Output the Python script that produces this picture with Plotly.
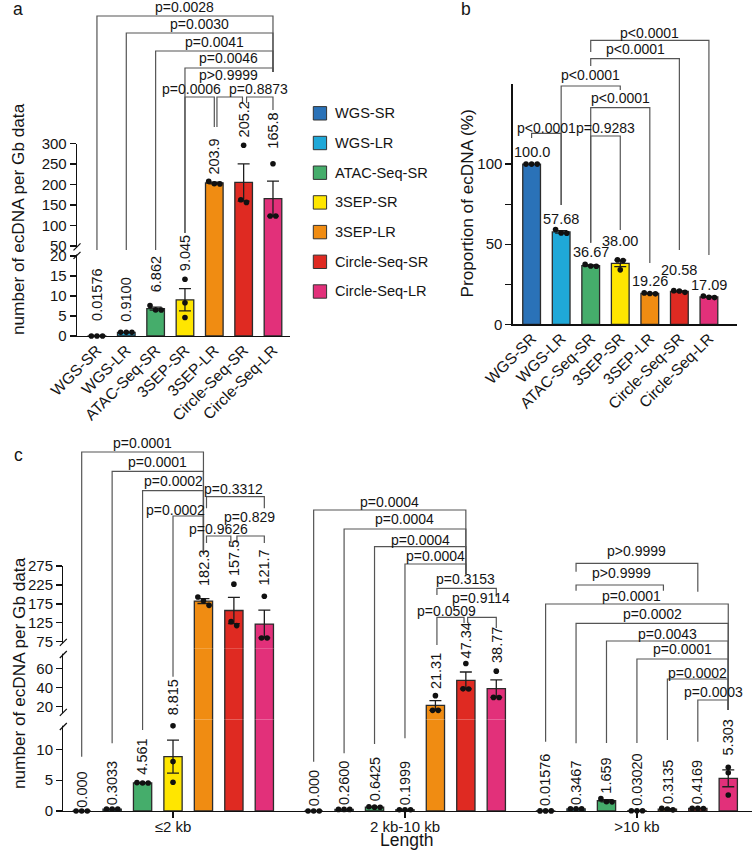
import numpy as np
import plotly.graph_objects as go

W, H = 753, 851
FONT = "Liberation Sans, Arial, Helvetica, sans-serif"
INK = "#141414"
BRK = "#555555"

# ----------------------------------------------------------------- data
techniques = ["WGS-SR", "WGS-LR", "ATAC-Seq-SR", "3SEP-SR", "3SEP-LR",
              "Circle-Seq-SR", "Circle-Seq-LR"]
colors = ["#2a72b8", "#1fa8d8", "#45ad6b", "#ffe600", "#f08c12", "#df2a22", "#e2307a"]

# panel a: number of ecDNA per Gb data
a_means = [0.01576, 0.9100, 6.862, 9.045, 203.9, 205.2, 165.8]
a_labels = ["0.01576", "0.9100", "6.862", "9.045", "203.9", "205.2", "165.8"]
a_points = [[0.0158, 0.0157, 0.0158], [0.91, 0.91, 0.91], [7.6, 6.5, 6.49],
            [14.2, 8.3, 4.63], [208.0, 202.0, 201.7], [296.0, 163.0, 156.6],
            [251.0, 123.2, 123.2]]
a_pairs = [(0, 6, "p=0.0028"), (1, 6, "p=0.0030"), (2, 6, "p=0.0041"),
           (3, 6, "p=0.0046"), (4, 5, "p>0.9999"), (3, 4, "p=0.0006"),
           (5, 6, "p=0.8873")]

# panel b: proportion of ecDNA (%)
b_means = [100.0, 57.68, 36.67, 38.00, 19.26, 20.58, 17.09]
b_labels = ["100.0", "57.68", "36.67", "38.00", "19.26", "20.58", "17.09"]
b_points = [[100.0, 100.0, 100.0], [59.2, 57.0, 56.84], [37.4, 36.4, 36.2],
            [40.2, 39.8, 34.0], [19.6, 19.2, 19.0], [21.0, 20.8, 19.95],
            [17.7, 16.9, 16.67]]
b_pairs = [(2, 6, "p<0.0001"), (2, 5, "p<0.0001"), (1, 3, "p<0.0001"),
           (2, 4, "p<0.0001"), (2, 3, "p=0.9283"), (0, 1, "p<0.0001")]

# panel c: number of ecDNA per Gb data by length
length_groups = ["≤2 kb", "2 kb-10 kb", ">10 kb"]
c_means = [[0.000, 0.3033, 4.561, 8.815, 182.3, 157.5, 121.7],
           [0.000, 0.2600, 0.6425, 0.1999, 21.31, 47.34, 38.77],
           [0.01576, 0.3467, 1.659, 0.03020, 0.3135, 0.4169, 5.303]]
c_labels = [["0.000", "0.3033", "4.561", "8.815", "182.3", "157.5", "121.7"],
            ["0.000", "0.2600", "0.6425", "0.1999", "21.31", "47.34", "38.77"],
            ["0.01576", "0.3467", "1.659", "0.03020", "0.3135", "0.4169", "5.303"]]
c_points = [
    [[0, 0, 0], [0.30, 0.30, 0.31], [4.6, 4.55, 4.53], [13.8, 8.0, 4.65],
     [193.0, 183.0, 171.0], [227.0, 128.0, 117.5], [195.0, 85.0, 85.0]],
    [[0, 0, 0], [0.26, 0.26, 0.26], [0.70, 0.62, 0.61], [0.20, 0.20, 0.20],
     [31.5, 16.2, 16.2], [64.9, 38.6, 38.5], [57.0, 29.7, 29.6]],
    [[0.0158, 0.0157, 0.0158], [0.35, 0.34, 0.35], [2.0, 1.5, 1.48],
     [0.03, 0.03, 0.031], [0.45, 0.30, 0.19], [0.42, 0.41, 0.42], [7.1, 6.2, 2.6]],
]
c_pairs = [
    [(0, 4, "p=0.0001"), (1, 4, "p=0.0001"), (2, 4, "p=0.0002"), (3, 4, "p=0.0002"),
     (4, 6, "p=0.3312"), (4, 5, "p=0.9626"), (5, 6, "p=0.829")],
    [(0, 5, "p=0.0004"), (1, 5, "p=0.0004"), (2, 5, "p=0.0004"), (3, 5, "p=0.0004"),
     (4, 6, "p=0.3153"), (5, 6, "p=0.9114"), (4, 5, "p=0.0509")],
    [(1, 5, "p>0.9999"), (1, 4, "p>0.9999"), (0, 6, "p=0.0001"), (1, 6, "p=0.0002"),
     (2, 6, "p=0.0043"), (3, 6, "p=0.0001"), (4, 6, "p=0.0002"), (5, 6, "p=0.0003")],
]

# ----------------------------------------------------------------- layout geometry (pixels)
def px(x):
    return x / W


def py(y):
    return 1 - y / H


SEG_A = [dict(axis="y", lo=0, hi=21.25, p0=336, p1=251, ticks=[0, 5, 10, 15, 20]),
         dict(axis="y2", lo=38, hi=300, p0=251, p1=143.6, ticks=[50, 100, 150, 200, 250, 300])]
SEG_B = [dict(axis="y3", lo=0, hi=150, p0=324.3, p1=84, ticks=[0, 25, 50, 75, 100],
              text=["0", "", "50", "", "100"])]
SEG_C = [dict(axis="y4", lo=0, hi=14.83, p0=811, p1=719.5, ticks=[0, 5, 10]),
         dict(axis="y5", lo=6.7, hi=80.77, p0=719.5, p1=648.3, ticks=[20, 40, 60]),
         dict(axis="y6", lo=57.6, hi=275, p0=648.3, p1=566, ticks=[75, 125, 175, 225, 275])]
XA = dict(ref="x", p0=77, p1=290, rng=[-0.68, 6.58])
XB = dict(ref="x2", p0=512.7, p1=736.7, rng=[-0.64, 6.94])
XC = dict(ref="x3", p0=63.3, p1=752, rng=[-0.604, 22.02])
GROUP_STEP = 7.62

# value-label gaps above the highest point / error bar (px)
a_label_shift = [13, 9, 11, 6, 5, 5.5, 13]
b_label_shift = [2.6, 0.8, 2.5, 9.3, 2.2, 11, 1.2]
c_label_shift = [[1, 2, 5.5, 8.5, 9.5, 6, 9],
                 [2.5, 2.5, 3, 2.5, 5, 3, 6.5],
                 [2.5, 2, 3.5, 3, 2.5, 2, 10]]

# bracket geometry: (line_y, leg1_end_y, leg2_end_y, text_y, text_dx, x1_off, x2_off)
a_br = [(16, 250, 72, 7.3, 0, 0, 0), (33, 250, 72, 24, 0, 0, 0), (51, 250, 72, 42, 0, 0, 0),
        (68, 233, 72, 58, 0, 0, 0), (97, 127, 103, 75, 0, 0.09, -0.04),
        (97, 233, 127, 89.3, -8, 0, 0), (97, 103, 110, 89.3, 0, 0.1, 0)]
b_br = [(40.3, 52, 255, 32.7, 0, 0, 0), (58.7, 66, 250, 49, 0, 0, 0),
        (86, 205, 90, 75, 0, 0, 0), (107.7, 242.7, 263, 98, 0, 0, 0),
        (136, 242.7, 230, 128, 0, 0, 0), (133.3, 138, 205, 127.7, 0, 0, 0)]
c_br = [
    [(452, 756.7, 553, 442.7, 0, 0, 0), (471.3, 743.3, 553, 461.7, 0, 0, 0),
     (490.7, 730, 553, 481, 0, 0, 0), (516, 676.7, 553, 509.5, -13, 0, 0),
     (496.7, 508.3, 508.3, 489.3, 0, 0.1, 0), (536, 543, 543, 529.3, 0, 0.1, -0.1),
     (536, 543, 543, 517.3, 0, 0.1, 0)],
    [(510, 761.7, 574.3, 501.7, 0, 0, 0), (529, 753.3, 574.3, 519.3, 0, 0, 0),
     (546.7, 744, 574.3, 540, 0, 0, 0), (564, 738.3, 574.3, 556, 0, 0, 0),
     (588.3, 595, 596.7, 579.3, 0, 0.05, 0), (617.3, 623, 628, 598.3, 0, 0.06, 0),
     (617.3, 645, 623, 611, -4, 0.05, -0.06)],
    [(563.3, 571.7, 591.7, 550.7, 0, 0, 0), (585, 590.7, 590.7, 573.3, 0, 0, -0.13),
     (604, 741.7, 710, 595.7, -5, 0, 0), (623.3, 743.3, 710, 614.3, 0, 0, 0),
     (641, 743, 710, 634.3, 0, 0, 0), (659, 743, 710, 649, 0, 0, 0),
     (679, 740, 710, 672.7, 0, 0, 0), (700, 741.7, 710, 692.3, 0, 0, 0)],
]

fig = go.Figure()
shapes = []
annotations = []


def seg_index(v, segs):
    for i, s in enumerate(segs):
        if s["lo"] <= v <= s["hi"]:
            return i
    return len(segs) - 1


def to_px(v, segs):
    s = segs[seg_index(v, segs)]
    return s["p0"] + (v - s["lo"]) * (s["p1"] - s["p0"]) / (s["hi"] - s["lo"])


def jitter(vals, segs, unit_px):
    pys = [to_px(v, segs) for v in vals]
    order = sorted(range(len(vals)), key=lambda i: pys[i])
    clusters, cur = [], [order[0]]
    for i in order[1:]:
        if abs(pys[i] - pys[cur[-1]]) < 5:
            cur.append(i)
        else:
            clusters.append(cur)
            cur = [i]
    clusters.append(cur)
    offs = [0.0] * len(vals)
    step = 5.6 / unit_px
    for c in clusters:
        n = len(c)
        for j, i in enumerate(c):
            offs[i] = (j - (n - 1) / 2) * step
    return offs


def add_panel(xax, segs, xs, means, points, cols, labels, angle, shifts):
    unit_px = (xax["p1"] - xax["p0"]) / (xax["rng"][1] - xax["rng"][0])
    n = len(xs)
    sems = [float(np.std(p, ddof=1) / np.sqrt(len(p))) for p in points]
    for si, s in enumerate(segs):
        prev_hi = segs[si - 1]["hi"] if si > 0 else -np.inf
        idx = [k for k in range(n) if means[k] > prev_hi or si == 0]
        fig.add_trace(go.Bar(
            x=[xs[k] for k in idx], y=[means[k] for k in idx], width=0.6,
            marker=dict(color=[cols[k] for k in idx], line=dict(color="#2b2b2b", width=1.3)),
            xaxis=xax["ref"], yaxis=s["axis"], hoverinfo="skip", showlegend=False))
    for si, s in enumerate(segs):
        idx = [k for k in range(n) if seg_index(means[k], segs) == si and sems[k] > 1e-9]
        if idx:
            fig.add_trace(go.Scatter(
                x=[xs[k] for k in idx], y=[means[k] for k in idx], mode="markers",
                marker=dict(size=1, color="rgba(0,0,0,0)"),
                error_y=dict(type="data", array=[sems[k] for k in idx], color="#1e1e1e",
                             thickness=1.3, width=6),
                xaxis=xax["ref"], yaxis=s["axis"], hoverinfo="skip", showlegend=False))
    ptx = {si: [] for si in range(len(segs))}
    pty = {si: [] for si in range(len(segs))}
    for k in range(n):
        offs = jitter(points[k], segs, unit_px)
        for v, o in zip(points[k], offs):
            si = seg_index(v, segs)
            ptx[si].append(xs[k] + o)
            pty[si].append(v)
    for si, s in enumerate(segs):
        if ptx[si]:
            fig.add_trace(go.Scatter(
                x=ptx[si], y=pty[si], mode="markers", cliponaxis=False,
                marker=dict(size=5.6, color="#111111"),
                xaxis=xax["ref"], yaxis=s["axis"], hoverinfo="skip", showlegend=False))
    for k in range(n):
        top = max(max(points[k]), means[k] + sems[k])
        s = segs[seg_index(top, segs)]
        annotations.append(dict(
            x=xs[k], y=top, xref=xax["ref"], yref=s["axis"], text=labels[k],
            textangle=angle, showarrow=False, xanchor="center", yanchor="bottom",
            yshift=shifts[k], font=dict(family=FONT, size=14.5, color=INK)))


def add_bracket(xref, x1, x2, geo, text):
    yl, e1, e2, ty, dx, o1, o2 = geo
    a, b = x1 + o1, x2 + o2
    shapes.append(dict(type="path", xref=xref, yref="paper", layer="above",
                       path=f"M {a},{py(e1)} L {a},{py(yl)} L {b},{py(yl)} L {b},{py(e2)}",
                       line=dict(color=BRK, width=1.2)))
    annotations.append(dict(x=(x1 + x2) / 2, y=py(ty), xref=xref, yref="paper", xshift=dx,
                            text=text, showarrow=False, xanchor="center", yanchor="middle",
                            font=dict(family=FONT, size=14, color=INK)))


# panel a
xa = list(range(len(techniques)))
add_panel(XA, SEG_A, xa, a_means, a_points, colors, a_labels, -90, a_label_shift)
for (i, j, t), g in zip(a_pairs, a_br):
    add_bracket("x", xa[i], xa[j], g, t)

# panel b
add_panel(XB, SEG_B, xa, b_means, b_points, colors, b_labels, 0, b_label_shift)
for (i, j, t), g in zip(b_pairs, b_br):
    add_bracket("x2", xa[i], xa[j], g, t)

# panel c
xc, mc, pc, lc, cc, sc = [], [], [], [], [], []
for g in range(len(length_groups)):
    for k in range(len(techniques)):
        xc.append(g * GROUP_STEP + k)
        mc.append(c_means[g][k])
        pc.append(c_points[g][k])
        lc.append(c_labels[g][k])
        cc.append(colors[k])
        sc.append(c_label_shift[g][k])
add_panel(XC, SEG_C, xc, mc, pc, cc, lc, -90, sc)
for g in range(len(length_groups)):
    for (i, j, t), geo in zip(c_pairs[g], c_br[g]):
        add_bracket("x3", g * GROUP_STEP + i, g * GROUP_STEP + j, geo, t)

# ----------------------------------------------------------------- axes
axis_common = dict(showline=True, linecolor="#111111", linewidth=1.3, showgrid=False,
                   zeroline=False, tickcolor="#111111", tickwidth=1.3,
                   tickfont=dict(family=FONT, size=15, color=INK), automargin=False)
lay = {}
for xax, anchor, tv, tt, ang, tl, stand in [
        (XA, "y", xa, techniques, -45, 0, -2),
        (XB, "y3", xa, techniques, -45, 0, -2),
        (XC, "y4", [g * GROUP_STEP + 3 for g in range(3)], length_groups, 0, 6, -4)]:
    key = "xaxis" if xax["ref"] == "x" else "xaxis" + xax["ref"][1:]
    d = dict(axis_common)
    d.update(domain=[px(xax["p0"]), min(1.0, px(xax["p1"]))], range=xax["rng"], anchor=anchor,
             tickmode="array", tickvals=tv, ticktext=tt, tickangle=ang,
             ticks="outside" if tl else "", ticklen=tl, ticklabelstandoff=stand)
    if xax["ref"] != "x3":
        d["tickfont"] = dict(family=FONT, size=15.5, color=INK)
    lay[key] = d
for segs, xref in [(SEG_A, "x"), (SEG_B, "x2"), (SEG_C, "x3")]:
    for s in segs:
        key = "yaxis" if s["axis"] == "y" else "yaxis" + s["axis"][1:]
        d = dict(axis_common)
        d.update(domain=[py(s["p0"]), py(s["p1"])], range=[s["lo"], s["hi"]], anchor=xref,
                 tickmode="array", tickvals=s["ticks"],
                 ticktext=s.get("text", [str(t) for t in s["ticks"]]),
                 ticks="outside", ticklen=6)
        lay[key] = d

# axis breaks (white gap + slanted marks)
for ax_x, gaps in [(77, [(246.3, 255.8)]), (63.3, [(641.9, 655.0), (711.9, 727.0)])]:
    for g0, g1 in gaps:
        shapes.append(dict(type="rect", xref="paper", yref="paper", layer="above",
                           x0=px(ax_x - 4), x1=px(ax_x + 4), y0=py(g1 - 1.3), y1=py(g0 + 1.3),
                           fillcolor="white", line=dict(width=0)))
        for yy in (g0 + 0.5, g1 - 0.5):
            shapes.append(dict(type="line", xref="paper", yref="paper", layer="above",
                               x0=px(ax_x - 3.5), y0=py(yy + 3.5), x1=px(ax_x + 3.5), y1=py(yy - 3.5),
                               line=dict(color="#111111", width=1.2)))

# legend
for i, (name, col) in enumerate(zip(techniques, colors)):
    yc = 113.3 + 29.7 * i
    shapes.append(dict(type="rect", xref="paper", yref="paper", x0=px(313.3), x1=px(326.6),
                       y0=py(yc + 6.7), y1=py(yc - 6.7), fillcolor=col,
                       line=dict(color="#333333", width=1)))
    annotations.append(dict(x=px(333.3), y=py(yc), xref="paper", yref="paper", text=name,
                            showarrow=False, xanchor="left", yanchor="middle",
                            font=dict(family=FONT, size=14.6, color=INK)))

# titles and panel letters
for txt, x, y, ang, size in [
        ("number of ecDNA per Gb data", 18, 219, -90, 17.2),
        ("number of ecDNA per Gb data", 19, 673, -90, 17.2),
        ("Proportion of ecDNA (%)", 467, 203.5, -90, 17.2),
        ("Length", 406.7, 840, 0, 17.5),
        ("a", 18, 9, 0, 17.5), ("b", 466, 9.5, 0, 17.5), ("c", 18, 455, 0, 17.5)]:
    annotations.append(dict(x=px(x), y=py(y), xref="paper", yref="paper", text=txt,
                            textangle=ang, showarrow=False, xanchor="center", yanchor="middle",
                            font=dict(family=FONT, size=size, color=INK)))

fig.update_layout(width=W, height=H, autosize=False, margin=dict(l=0, r=0, t=0, b=0),
                  paper_bgcolor="white", plot_bgcolor="rgba(0,0,0,0)", barmode="overlay",
                  showlegend=False, shapes=shapes, annotations=annotations,
                  font=dict(family=FONT, color=INK), hovermode=False, dragmode=False)
fig.update_layout(**lay)
fig.write_html("out.html", config={"displayModeBar": False, "staticPlot": True},
               post_script="document.body.style.margin='0px';document.body.style.overflow='hidden';")
